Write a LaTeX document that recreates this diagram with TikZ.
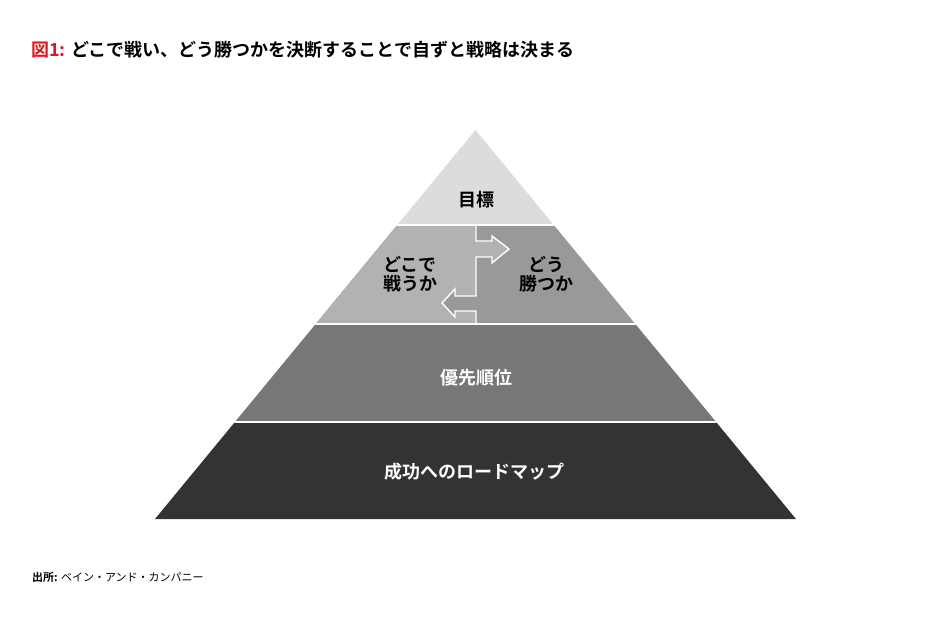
\documentclass[tikz,border=0pt]{standalone}
\usepackage{fontspec}
\usepackage{tikz}
\usepackage{xcolor}
\setmainfont{Noto Sans CJK JP}[BoldFont={* Bold}]
\definecolor{figred}{HTML}{E3141B}
\definecolor{goalgray}{HTML}{DCDCDC}
\definecolor{wheregray}{HTML}{B2B2B2}
\definecolor{howgray}{HTML}{999999}
\definecolor{priogray}{HTML}{777777}
\definecolor{roadgray}{HTML}{333333}
\tikzset{
    layer-sep/.style = {draw=white, line width=2.2pt},
    arrow-sep/.style = {draw=white, line width=1.4pt, line join=miter},
    layer-label/.style = {font=\bfseries\fontsize{18}{19}\selectfont, align=center, inner sep=0pt},
}

\begin{document}
\begin{tikzpicture}[x=1pt, y=-1pt]
\useasboundingbox (0,0) rectangle (950,625);
\node[anchor=west, inner sep=0pt, font=\bfseries\fontsize{18}{20}\selectfont] (title) at (31,50)
    {\textcolor{figred}{図1:} どこで戦い、どう勝つかを決断することで自ずと戦略は決まる};

% pyramid
\coordinate (apex) at (475.5,130);
\coordinate (baseL) at (155,519);
\coordinate (baseR) at (796,519);
\begin{scope}
\clip (apex) -- (baseR) -- (baseL) -- cycle;
\fill[goalgray] (0,120) rectangle (950,225);
\fill[howgray] (0,225) rectangle (950,324);
\fill[wheregray] (0,225) -- (476,225) -- (476,241) -- (492,241) -- (492,236) -- (509,249)
    -- (492,263) -- (492,257) -- (476,257) -- (476,296) -- (455,296) -- (455,289)
    -- (442,303) -- (455,317) -- (455,311) -- (476,311) -- (476,324) -- (0,324) -- cycle;
\fill[priogray] (0,324) rectangle (950,422);
\fill[roadgray] (0,422) rectangle (950,530);
\draw[arrow-sep] (476,225) -- (476,241) -- (492,241) -- (492,236) -- (509,249)
    -- (492,263) -- (492,257) -- (476,257) -- (476,296) -- (455,296) -- (455,289)
    -- (442,303) -- (455,317) -- (455,311) -- (476,311) -- (476,324);
\draw[layer-sep] (0,225) -- (950,225);
\draw[layer-sep] (0,324) -- (950,324);
\draw[layer-sep] (0,422) -- (950,422);
\end{scope}

\node[layer-label] (goal) at (476,200) {目標};
\node[layer-label] (where) at (410,274) {どこで\\戦うか};
\node[layer-label] (how) at (546,274) {どう\\勝つか};
\node[layer-label, text=white] (prio) at (476,378) {優先順位};
\node[layer-label, text=white] (road) at (474,472) {成功へのロードマップ};

\node[anchor=west, inner sep=0pt, font=\fontsize{11}{13}\selectfont] (source) at (32,577)
    {\textbf{出所:} ベイン・アンド・カンパニー};
\end{tikzpicture}
\end{document}
